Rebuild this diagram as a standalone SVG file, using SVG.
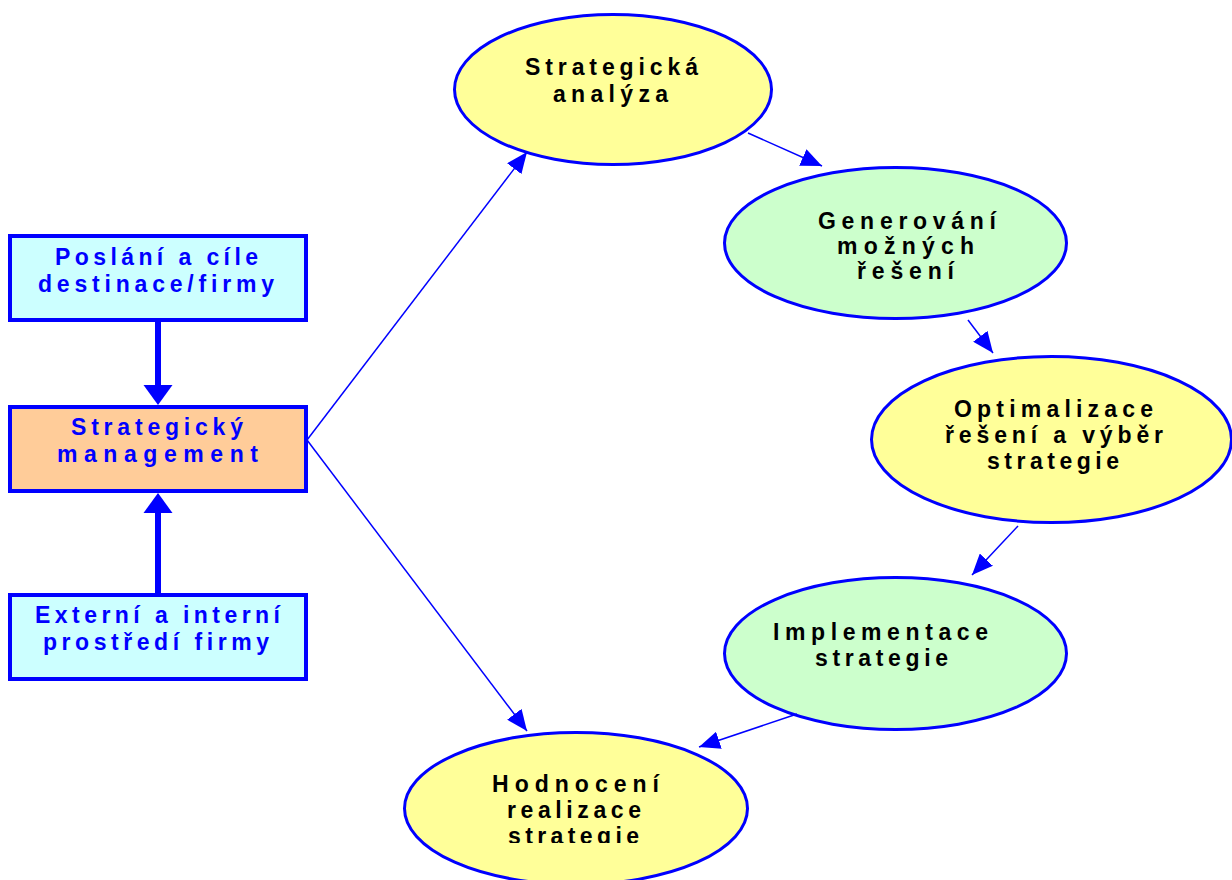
<svg xmlns="http://www.w3.org/2000/svg" width="1232" height="880" viewBox="0 0 1232 880">
  <style>
    .box { stroke: #0000FF; stroke-width: 4; }
    .cyan { fill: #CCFFFF; }
    .orange { fill: #FFCC99; }
    .ell { stroke: #0000FF; stroke-width: 3; }
    .yellow { fill: #FFFF99; }
    .green { fill: #CCFFCC; }
    .t { font-family: "Liberation Sans Narrow", "Liberation Sans", Arial, sans-serif; font-weight: bold; font-size: 23px; }
    .bt { fill: #0000FF; }
    .et { fill: #000000; }
    .thin { stroke: #0000FF; stroke-width: 1.5; fill: none; marker-end: url(#head); }
    .thick { stroke: #0000FF; stroke-width: 6; fill: none; }
  </style>
  <defs>
    <marker id="head" markerUnits="userSpaceOnUse" markerWidth="21" markerHeight="18" refX="21" refY="9" orient="auto">
      <path d="M0,0 L21,9 L0,18 Z" fill="#0000FF"/>
    </marker>
    <clipPath id="cut5">
      <rect x="380" y="700" width="400" height="143"/>
    </clipPath>
  </defs>
  <rect width="1232" height="880" fill="#FFFFFF"/>

  <!-- left column boxes -->
  <g id="poslani">
    <rect class="box cyan" x="10" y="236" width="296" height="84"/>
    <text class="t bt" x="55" y="265" textLength="203" lengthAdjust="spacing">Poslání a cíle</text>
    <text class="t bt" x="38" y="292" textLength="236" lengthAdjust="spacing">destinace/firmy</text>
  </g>
  <g id="management">
    <rect class="box orange" x="10" y="407" width="296" height="84"/>
    <text class="t bt" x="71" y="435" textLength="172" lengthAdjust="spacing">Strategický</text>
    <text class="t bt" x="57" y="462" textLength="201" lengthAdjust="spacing">management</text>
  </g>
  <g id="prostredi">
    <rect class="box cyan" x="10" y="595" width="296" height="84"/>
    <text class="t bt" x="35" y="623" textLength="245" lengthAdjust="spacing">Externí a interní</text>
    <text class="t bt" x="43" y="650" textLength="226" lengthAdjust="spacing">prostředí firmy</text>
  </g>

  <!-- cycle of ellipses -->
  <g id="analyza">
    <ellipse class="ell yellow" cx="613" cy="89.5" rx="158.5" ry="75"/>
    <text class="t et" x="525" y="75" textLength="173" lengthAdjust="spacing">Strategická</text>
    <text class="t et" x="553" y="102" textLength="115" lengthAdjust="spacing">analýza</text>
  </g>
  <g id="generovani">
    <ellipse class="ell green" cx="895.5" cy="243" rx="171" ry="75.5"/>
    <text class="t et" x="818" y="229" textLength="178" lengthAdjust="spacing">Generování</text>
    <text class="t et" x="837" y="254" textLength="137" lengthAdjust="spacing">možných</text>
    <text class="t et" x="857" y="279" textLength="97" lengthAdjust="spacing">řešení</text>
  </g>
  <g id="optimalizace">
    <ellipse class="ell yellow" cx="1051.5" cy="439.5" rx="180" ry="83"/>
    <text class="t et" x="954" y="417" textLength="199" lengthAdjust="spacing">Optimalizace</text>
    <text class="t et" x="945" y="443" textLength="218" lengthAdjust="spacing">řešení a výběr</text>
    <text class="t et" x="987" y="469" textLength="132" lengthAdjust="spacing">strategie</text>
  </g>
  <g id="implementace">
    <ellipse class="ell green" cx="895.5" cy="653.5" rx="171" ry="76"/>
    <text class="t et" x="773" y="640" textLength="215" lengthAdjust="spacing">Implementace</text>
    <text class="t et" x="815" y="666" textLength="133" lengthAdjust="spacing">strategie</text>
  </g>
  <g id="hodnoceni">
    <ellipse class="ell yellow" cx="576" cy="808.5" rx="171.5" ry="76"/>
    <g clip-path="url(#cut5)">
      <text class="t et" x="492" y="792" textLength="167" lengthAdjust="spacing">Hodnocení</text>
      <text class="t et" x="507" y="818" textLength="134" lengthAdjust="spacing">realizace</text>
      <text class="t et" x="508" y="844" textLength="131" lengthAdjust="spacing">strategie</text>
    </g>
  </g>

  <!-- connectors -->
  <g id="connectors">
    <line class="thick" x1="158" y1="322" x2="158" y2="386"/>
    <polygon points="143.5,385 172.5,385 158,405" fill="#0000FF"/>
    <line class="thick" x1="158" y1="593" x2="158" y2="512"/>
    <polygon points="143.5,513 172.5,513 158,493" fill="#0000FF"/>
    <line class="thin" x1="307" y1="440" x2="527" y2="152"/>
    <line class="thin" x1="307" y1="440" x2="527" y2="731"/>
    <line class="thin" x1="748" y1="133" x2="822" y2="166"/>
    <line class="thin" x1="968" y1="320" x2="993" y2="353"/>
    <line class="thin" x1="1018" y1="526" x2="972" y2="575"/>
    <line class="thin" x1="797" y1="714" x2="699" y2="747"/>
  </g>
</svg>
